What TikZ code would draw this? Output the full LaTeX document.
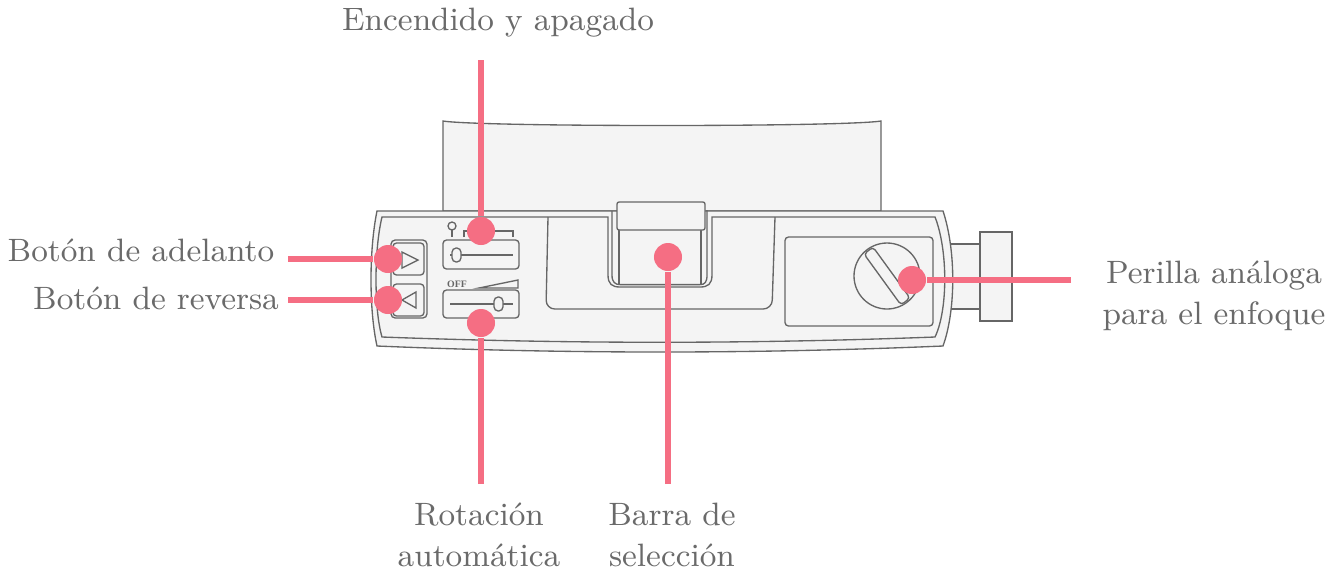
\documentclass[tikz,border=0pt]{standalone}
\usepackage{tikz}
\usepackage{xcolor}
\usepackage{fontspec}
\newfontfamily\offfont{Liberation Serif}
\definecolor{pinkmark}{HTML}{F56E83}
\definecolor{bodyfill}{HTML}{F4F4F4}
\definecolor{bodyline}{HTML}{666666}
\definecolor{labeltext}{HTML}{6A6A6A}
\tikzset{
  part/.style={draw=bodyline,fill=bodyfill,line width=0.38pt},
  edge/.style={draw=bodyline,line width=0.38pt},
  marker/.style={circle,fill=pinkmark,inner sep=0pt,minimum size=0.28cm},
  callout/.style={draw=pinkmark,line width=1.45pt},
  caption/.style={text=labeltext,align=center,inner sep=0pt,font=\fontsize{9.2}{11.8}\selectfont}
}
\begin{document}
\begin{tikzpicture}[x=0.01cm,y=-0.01cm]
        \useasboundingbox (0,0) rectangle (1342,572);
        \path[part] (443,211)--(443,121) .. controls (480,127) and (844,127) .. (881,121)--(881,211)--cycle;
        \path[part] (950,244)--(980,244)--(980,309)--(950,309)--cycle;
        \path[part] (980,232) rectangle (1012,321);
        \path[part] (377,211)--(943,211) .. controls (956,250) and (956,310) .. (943,346)
                .. controls (755,354) and (565,354) .. (377,346)
                .. controls (369,310) and (369,250) .. (377,211)--cycle;
        \path[edge] (382,217)--(608,217)--(608,275) .. controls (608,284) and (612,287) .. (620,287)
                --(700,287) .. controls (708,287) and (712,284) .. (712,275)--(712,217)
                --(935,217) .. controls (948,250) and (948,310) .. (935,337)
                .. controls (750,344) and (570,344) .. (382,337)
                .. controls (374,310) and (374,250) .. (382,217)--cycle;
        \path[edge] (612,211)--(612,275) .. controls (612,282) and (615,284.6) .. (620,284.6)
                --(700,284.6) .. controls (705,284.6) and (707,282) .. (707,275)--(707,210);
        \path[edge] (619,230)--(619,284.6);
        \path[edge] (701,230)--(701,284.6);
        \path[part,rounded corners=0.6pt] (617,202) rectangle (705,230);
        \path[edge,rounded corners=2.5pt] (548,217)--(546,309)--(772,309)--(775,217);
        \path[edge,rounded corners=1pt] (785,237) rectangle (933,326);
        \path[edge] (887,276) circle [radius=33];
        \path[edge,rounded corners=1pt] (873,247)--(910,298)--(901,305)--(864,254)--cycle;
        \path[edge,rounded corners=1.2pt] (391,240) rectangle (427,318);
        \path[part,rounded corners=1pt] (393,243) rectangle (424,275);
        \path[part,rounded corners=1pt] (393,284) rectangle (424,316);
        \path[edge] (402,252)--(418,260)--(402,268)--cycle;
        \path[edge] (416,292)--(402,300)--(416,308)--cycle;
        \path[edge,rounded corners=1pt] (443,240) rectangle (519,269);
        \path[edge,rounded corners=1pt] (443,290) rectangle (519,318);
        \path[edge,line width=0.7pt] (450,255)--(513,255);
        \path[edge,line width=0.7pt] (450,304)--(513,304);
        \path[part,rounded corners=1.2pt] (452,248) rectangle (461,262);
        \path[part,rounded corners=1.2pt] (494,297) rectangle (503,311);
        \path[edge] (452,226) circle [radius=4];
        \path[edge] (452,230)--(452,237);
        \path[edge] (464,237)--(464,231)--(513,231)--(513,237);
        \path[edge] (479,288)--(518,280)--(518,288)--cycle;
        \node[text=bodyline,inner sep=0pt,font=\offfont\bfseries\fontsize{2.8}{2.8}\selectfont](offtext) at (457,284) {OFF};
        \node[marker](powerdot) at (481,231) {};
        \node[marker](forwarddot) at (388,259) {};
        \node[marker](reversedot) at (388,300) {};
        \node[marker](rotationdot) at (481,323) {};
        \node[marker](selectdot) at (668,257) {};
        \node[marker](focusdot) at (912,280) {};
        \coordinate(powerend) at (481,60);
        \coordinate(forwardend) at (288,259);
        \coordinate(reverseend) at (288,300);
        \coordinate(rotationend) at (481,484);
        \coordinate(selectend) at (668,484);
        \coordinate(focusend) at (1071,280);
        \draw[callout](powerend)--(powerdot);
        \draw[callout](forwardend)--(forwarddot);
        \draw[callout](reverseend)--(reversedot);
        \draw[callout](rotationend)--(rotationdot);
        \draw[callout](selectend)--(selectdot);
        \draw[callout](focusend)--(focusdot);
        \node[caption](powerlabel) at (498,23) {Encendido y apagado};
        \node[caption](forwardlabel) at (141,250) {Botón de adelanto};
        \node[caption](reverselabel) at (156,298) {Botón de reversa};
        \node[caption](focuslabel) at (1214,296) {Perilla análoga\\para el enfoque};
        \node[caption](rotationlabel) at (479,535) {Rotación\\automática};
        \node[caption](selectlabel) at (672,535) {Barra de\\selección};
        \end{tikzpicture}
\end{document}
